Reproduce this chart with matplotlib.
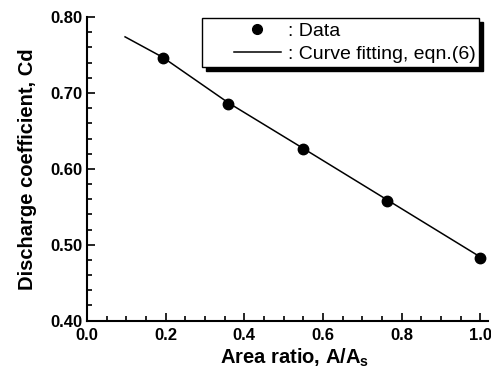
import matplotlib
matplotlib.use('Agg')
import matplotlib.pyplot as plt
from matplotlib.ticker import MultipleLocator
from matplotlib.lines import Line2D
from matplotlib.legend_handler import HandlerLine2D

plt.rcParams['font.family'] = ['Liberation Sans', 'DejaVu Sans']

# measured data
area_ratio = [0.193, 0.36, 0.55, 0.764, 1.0]
cd_data = [0.746, 0.686, 0.626, 0.558, 0.483]

# curve fitting, eqn.(6)
fit_x = [0.097, 0.193, 0.36, 0.55, 0.764, 1.0]
fit_y = [0.774, 0.747, 0.687, 0.627, 0.559, 0.484]

fig = plt.figure(figsize=(4.91, 3.72), dpi=100)
ax = fig.add_axes([0.177, 0.138, 0.817, 0.816])

ax.plot(fit_x, fit_y, color='black', lw=1.1)
ax.plot(area_ratio, cd_data, 'o', color='black', ms=7.5)

ax.set_xlim(0, 1.02)
ax.set_ylim(0.40, 0.80)
ax.xaxis.set_minor_locator(MultipleLocator(0.05))
ax.yaxis.set_minor_locator(MultipleLocator(0.02))
ax.set_xticks([0.0, 0.2, 0.4, 0.6, 0.8, 1.0])
ax.set_xticklabels(['0.0', '0.2', '0.4', '0.6', '0.8', '1.0'])
ax.set_yticks([0.4, 0.5, 0.6, 0.7, 0.8])
ax.set_yticklabels(['0.40', '0.50', '0.60', '0.70', '0.80'])

for s in ['top', 'right']:
	ax.spines[s].set_visible(False)
for s in ['left', 'bottom']:
	ax.spines[s].set_linewidth(1.5)

ax.tick_params(which='both', direction='in', width=1.2, labelsize=12)
ax.tick_params(which='major', length=6)
ax.tick_params(which='minor', length=3.5)
ax.tick_params(axis='x', which='major', pad=5)
ax.tick_params(axis='y', which='major', pad=3)
for lab in ax.get_xticklabels() + ax.get_yticklabels():
	lab.set_fontweight('bold')

ax.set_xlabel(r'Area ratio, A/A$\mathregular{_s}$', fontsize=14.5, fontweight='bold')
ax.xaxis.set_label_coords(0.518, -0.085)
ax.set_ylabel('Discharge coefficient, Cd', fontsize=14.5, fontweight='bold', labelpad=10)

handles = [Line2D([], [], ls='none', marker='o', color='black', ms=7),
	Line2D([], [], color='black', lw=1.1)]
labels = [': Data', ': Curve fitting, eqn.(6)']
leg = ax.legend(handles, labels, loc='upper right', bbox_to_anchor=(0.978, 0.997),
	fancybox=False, shadow={'color': 'black', 'alpha': 1, 'ox': 3, 'oy': -3},
	edgecolor='black', framealpha=1, fontsize=14, handlelength=3.86,
	handletextpad=0.35, borderpad=0.2, labelspacing=0.3, borderaxespad=0,
	handler_map={Line2D: HandlerLine2D(xpad=1.44, numpoints=1)})
leg.get_frame().set_linewidth(1.0)

fig.savefig('out.png', dpi=100)
